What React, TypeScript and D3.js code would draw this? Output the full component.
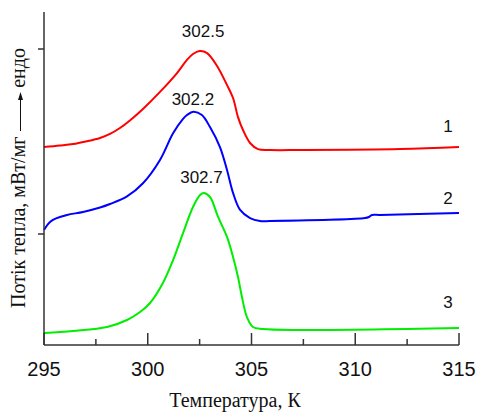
import React from "react";
import * as d3 from "d3";

// DSC heat-flow curves: temperature (K) vs heat flow (offset, mW/mg)
const curve1T = [295.0, 295.77, 296.4, 297.02, 297.7, 298.18, 298.66, 299.14, 299.77, 300.59, 301.41, 301.89, 302.18, 302.5, 302.86, 303.34, 303.82, 304.11, 304.35, 304.59, 304.93, 305.31, 305.89, 307.34, 312.16, 315.0];
const curve1Q = [1.07, 1.078, 1.086, 1.1, 1.119, 1.141, 1.173, 1.214, 1.276, 1.368, 1.47, 1.541, 1.573, 1.589, 1.578, 1.508, 1.405, 1.335, 1.232, 1.162, 1.092, 1.059, 1.054, 1.054, 1.059, 1.07];

const curve2T = [295.0, 295.29, 295.58, 296.11, 296.88, 297.7, 298.18, 299.0, 299.77, 300.59, 301.22, 301.7, 301.89, 302.2, 302.61, 303.0, 303.48, 303.82, 304.11, 304.45, 304.93, 305.41, 305.89, 310.47, 310.66, 310.81, 311.19, 315.0];
const curve2Q = [0.622, 0.665, 0.684, 0.703, 0.719, 0.743, 0.762, 0.803, 0.874, 1.0, 1.144, 1.222, 1.243, 1.261, 1.243, 1.178, 1.07, 0.946, 0.822, 0.73, 0.686, 0.67, 0.67, 0.686, 0.692, 0.703, 0.703, 0.714];

const curve3T = [295.0, 296.4, 298.04, 299.0, 299.63, 300.11, 300.73, 301.22, 301.7, 302.18, 302.52, 302.7, 303.0, 303.39, 303.82, 304.11, 304.35, 304.54, 304.78, 305.07, 305.55, 307.34, 315.0];
const curve3Q = [0.065, 0.076, 0.097, 0.135, 0.178, 0.227, 0.335, 0.459, 0.605, 0.746, 0.811, 0.822, 0.8, 0.692, 0.584, 0.476, 0.368, 0.259, 0.151, 0.097, 0.086, 0.081, 0.092];

const peakT = [302.5, 302.2, 302.7];
const peakQ = [1.589, 1.261, 0.822];
const curveNames = ["1", "2", "3"];
const curveColors = ["#ff0000", "#0000ff", "#00ee00"];

const xMajorTicks = [295, 300, 305, 310, 315];
const xMinorTicks = [297.5, 302.5, 307.5, 312.5];
const yTicks = [0.6, 1.6];

const W = 477;
const H = 412;
const left = 44;
const right = 459;
const top = 12;
const bottom = 345;

// small nudges for the peak captions (dx, dy from the peak point)
const peakLabelDx = [3.5, -0.5, -2.3];
const peakLabelDy = [-14, -6.5, -10];
// curve numbers sit above the right end of each trace
const nameDy = [-15, -9, -20];

export default function App() {
  const x = d3.scaleLinear().domain([295, 315]).range([left, right]);
  const y = d3.scaleLinear().domain([0, 1.8]).range([bottom, top]);

  const series = [
    { t: curve1T, q: curve1Q },
    { t: curve2T, q: curve2Q },
    { t: curve3T, q: curve3Q },
  ];

  const line = d3
    .line<[number, number]>()
    .x((d) => x(d[0]))
    .y((d) => y(d[1]))
    .curve(d3.curveCatmullRom.alpha(0.5));

  const sans = "Liberation Sans, Arial, sans-serif";
  const serif = "Liberation Serif, Times New Roman, serif";

  return (
    <svg
      width={W}
      height={H}
      style={{ position: "absolute", left: 0, top: 0, background: "#fff" }}
    >
      {series.map((s, i) => (
        <path
          key={i}
          d={line(s.t.map((t, j) => [t, s.q[j]] as [number, number])) || ""}
          fill="none"
          stroke={curveColors[i]}
          strokeWidth={2}
        />
      ))}

      {peakT.map((t, i) => (
        <text
          key={i}
          x={x(t) + peakLabelDx[i]}
          y={y(peakQ[i]) + peakLabelDy[i]}
          textAnchor="middle"
          fontFamily={sans}
          fontSize={17}
          fill="#111"
        >
          {t.toFixed(1)}
        </text>
      ))}

      {series.map((s, i) => (
        <text
          key={i}
          x={448}
          y={y(s.q[s.q.length - 1]) + nameDy[i]}
          textAnchor="middle"
          fontFamily={sans}
          fontSize={17}
          fill="#111"
        >
          {curveNames[i]}
        </text>
      ))}

      <line x1={left} x2={left} y1={top} y2={bottom} stroke="#333" strokeWidth={1.5} />
      <line x1={left} x2={right} y1={bottom} y2={bottom} stroke="#333" strokeWidth={1.5} />
      {yTicks.map((v) => (
        <line key={v} x1={left - 6} x2={left} y1={y(v)} y2={y(v)} stroke="#333" strokeWidth={1.5} />
      ))}
      {xMajorTicks.map((v) => (
        <g key={v}>
          <line x1={x(v)} x2={x(v)} y1={bottom} y2={bottom - 12} stroke="#333" strokeWidth={1.5} />
          <text x={x(v)} y={376} textAnchor="middle" fontFamily={sans} fontSize={20} fill="#111">
            {v}
          </text>
        </g>
      ))}
      {xMinorTicks.map((v) => (
        <line key={v} x1={x(v)} x2={x(v)} y1={bottom} y2={bottom - 6} stroke="#333" strokeWidth={1.5} />
      ))}

      <text x={235} y={407} textAnchor="middle" fontFamily={serif} fontSize={20} fill="#111">
        Температура, К
      </text>

      {/* vertical axis title with endo arrow */}
      <g transform="translate(25,0) rotate(-90)">
        <text x={-308} y={0} textAnchor="start" fontFamily={serif} fontSize={20} fill="#111">
          Потік тепла, мВт/мг
        </text>
        <line x1={-131} x2={-99} y1={-4.5} y2={-4.5} stroke="#111" strokeWidth={1} />
        <path d="M-92,-4.5 L-100,-7 L-100,-2 Z" fill="#111" />
        <text x={-48} y={0} textAnchor="end" fontFamily={serif} fontSize={20} fill="#111">
          ендо
        </text>
      </g>
    </svg>
  );
}
